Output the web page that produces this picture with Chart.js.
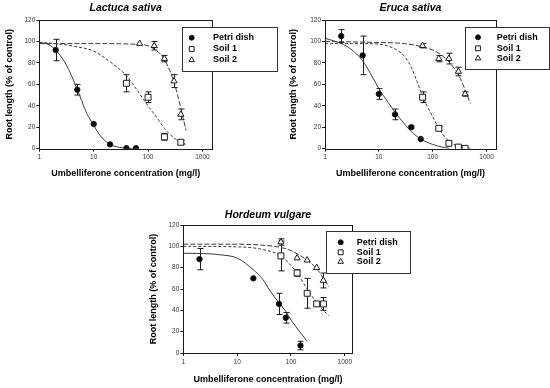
<!DOCTYPE html>
<html lang="en">
<head>
<meta charset="UTF-8">
<title>Umbelliferone - root length</title>
<script src="https://cdn.jsdelivr.net/npm/chart.js"></script>
<style>
  body { margin: 0; background: #fff; }
  canvas { position: absolute; }
  #c1 { left: 0; top: 0; }
  #c2 { left: 270px; top: 0; }
  #c3 { left: 130px; top: 190px; }
</style>
</head>
<body>
<canvas id="c1" width="280" height="190"></canvas>
<canvas id="c2" width="280" height="190"></canvas>
<canvas id="c3" width="282" height="198"></canvas>

<script>
// ---- data (concentration mg/l, root length % of control) ----
const seriesNames = ['Petri dish', 'Soil 1', 'Soil 2'];
const xTickLabels = [1, 10, 100, 1000];

// Lactuca sativa
const lacPetriX = [2, 5, 10, 20, 40, 60];
const lacPetriY = [92, 55, 23, 4, 0.5, 0.5];
const lacPetriErr = [10, 5, 0, 0, 0, 0];
const lacSoil1X = [40, 100, 200, 400];
const lacSoil1Y = [61, 48, 11, 6];
const lacSoil1Err = [8, 5, 3, 2];
const lacSoil2X = [70, 130, 200, 300, 400];
const lacSoil2Y = [98, 96, 84, 63, 32];
const lacSoil2Err = [0, 4, 3, 6, 5];
// fitted curves
const lacPetriFitX = [1, 1.5, 2, 3, 4, 5, 6, 7, 8, 10, 12, 15, 20, 30, 40, 60];
const lacPetriFitY = [99, 97, 92, 80, 67, 55, 45, 36, 30, 22, 15, 9, 4, 1.2, 0.4, 0];
const lacSoil1FitX = [1, 2, 5, 10, 20, 40, 60, 100, 150, 200, 300, 400, 500];
const lacSoil1FitY = [99, 98, 95, 91, 81, 68, 56, 40, 28, 19, 10, 6, 4];
const lacSoil2FitX = [1, 10, 50, 100, 130, 170, 200, 250, 300, 350, 400, 450, 500];
const lacSoil2FitY = [98, 98, 97.5, 96, 93, 88, 83, 73, 62, 50, 38, 27, 17];

// Eruca sativa
const eruPetriX = [2, 5, 10, 20, 40, 60];
const eruPetriY = [105, 87, 51, 32, 20, 9];
const eruPetriErr = [6, 18, 5, 5, 1, 0];
const eruSoil1X = [65, 130, 200, 300, 400];
const eruSoil1Y = [48, 19, 5, 1.5, 0.3];
const eruSoil1Err = [5, 2, 0, 0, 0];
const eruSoil2X = [65, 130, 200, 300, 400];
const eruSoil2Y = [96, 84, 84, 72, 51];
const eruSoil2Err = [2, 3, 5, 4, 2];
const eruPetriFitX = [1, 2, 3, 5, 7, 10, 15, 20, 30, 40, 60, 100, 150, 200];
const eruPetriFitY = [103, 98, 93, 82, 70, 56, 43, 34, 23, 16, 9, 4, 1.5, 0.5];
const eruSoil1FitX = [1, 5, 10, 20, 30, 40, 50, 65, 80, 100, 130, 200, 300, 500];
const eruSoil1FitY = [98, 98, 97.5, 93, 86, 76, 64, 49, 39, 30, 19, 7, 2.5, 0.3];
const eruSoil2FitX = [1, 10, 30, 65, 100, 130, 200, 300, 400, 500];
const eruSoil2FitY = [100, 99, 98, 95, 92, 89, 81, 69, 55, 42];

// Hordeum vulgare
const horPetriX = [2, 20, 60, 80, 150];
const horPetriY = [88, 70, 46, 33, 7];
const horPetriErr = [10, 0, 10, 5, 4];
const horSoil1X = [65, 130, 200, 300, 400];
const horSoil1Y = [91, 75, 56, 46, 46];
const horSoil1Err = [14, 3, 14, 0, 6];
const horSoil2X = [65, 130, 200, 300, 400];
const horSoil2Y = [104, 89, 87, 80, 68];
const horSoil2Err = [3, 0, 0, 0, 7];
const horPetriFitX = [1, 3, 5, 10, 20, 30, 40, 60, 80, 100, 150, 200];
const horPetriFitY = [93.5, 93, 92, 89, 78, 69, 59, 47, 39, 31, 19, 11];
const horSoil1FitX = [1, 10, 30, 65, 100, 130, 200, 300, 400, 500];
const horSoil1FitY = [100, 99.5, 97, 91, 82, 75, 60, 47, 40, 35];
const horSoil2FitX = [1, 10, 30, 65, 100, 130, 200, 300, 400, 500];
const horSoil2FitY = [102, 102, 101, 99, 96, 93, 87, 79, 70, 62];

// ---- helpers ----
const FONT = "'Liberation Sans', Arial, sans-serif";
const INK = '#1a1a1a';

const markerStyles = [
  { pointStyle: 'circle', pointRadius: 2.7, backgroundColor: '#000', legendR: 2.5 },
  { pointStyle: 'rect', pointRadius: 4.2, backgroundColor: '#fff', legendR: 3.4 },
  { pointStyle: 'triangle', pointRadius: 3.6, backgroundColor: '#fff', legendR: 3.2 }
];
const fitDashes = [[], [3, 2], [5, 2]];

function xy(xs, ys) {
  return xs.map((x, i) => ({ x: x, y: ys[i] }));
}

function points(i, xs, ys, err) {
  const s = markerStyles[i];
  return {
    label: seriesNames[i], data: xy(xs, ys), err: err, showLine: false,
    pointStyle: s.pointStyle, pointRadius: s.pointRadius, legendR: s.legendR,
    backgroundColor: s.backgroundColor, borderColor: INK, borderWidth: 1, order: 0
  };
}

function curve(i, xs, ys) {
  return {
    label: '', data: xy(xs, ys), showLine: true, pointRadius: 0,
    borderColor: '#3a3a3a', borderWidth: 1, borderDash: fitDashes[i],
    cubicInterpolationMode: 'monotone', order: 1
  };
}

// error bars go under the markers
const errorBars = {
  id: 'errorBars',
  beforeDatasetsDraw(chart) {
    const ctx = chart.ctx, xs = chart.scales.x, ys = chart.scales.y;
    ctx.save();
    ctx.strokeStyle = INK;
    ctx.lineWidth = 1;
    chart.data.datasets.forEach(ds => {
      if (!ds.err) return;
      ds.data.forEach((p, i) => {
        const e = ds.err[i];
        if (!e) return;
        const px = Math.round(xs.getPixelForValue(p.x)) + 0.5;
        const top = ys.getPixelForValue(p.y + e);
        const bot = ys.getPixelForValue(Math.max(p.y - e, 0));
        ctx.beginPath();
        ctx.moveTo(px, top); ctx.lineTo(px, bot);
        ctx.moveTo(px - 3, top); ctx.lineTo(px + 3, top);
        ctx.moveTo(px - 3, bot); ctx.lineTo(px + 3, bot);
        ctx.stroke();
      });
    });
    ctx.restore();
  }
};

// frame, panel title and boxed legend
const decor = {
  id: 'decor',
  afterDraw(chart) {
    const o = chart.options.plugins.decor;
    const a = chart.chartArea, ctx = chart.ctx;
    ctx.save();
    ctx.strokeStyle = INK;
    ctx.lineWidth = 1;
    ctx.strokeRect(Math.round(a.left) + 0.5, Math.round(a.top) + 0.5,
      Math.round(a.right - a.left), Math.round(a.bottom - a.top));

    ctx.fillStyle = '#000';
    ctx.font = 'italic bold 10.5px ' + FONT;
    ctx.textAlign = 'center';
    ctx.textBaseline = 'middle';
    ctx.fillText(o.title, (a.left + a.right) / 2, o.titleY);

    const L = o.legend;
    ctx.fillStyle = '#fff';
    ctx.fillRect(L.x, L.y, L.w, L.h);
    ctx.strokeStyle = '#333';
    ctx.strokeRect(L.x + 0.5, L.y + 0.5, L.w, L.h);
    const marks = chart.data.datasets.filter(d => d.err);
    marks.forEach((d, i) => {
      ctx.fillStyle = d.backgroundColor;
      ctx.strokeStyle = INK;
      ctx.lineWidth = 1;
      Chart.helpers.drawPoint(ctx, { pointStyle: d.pointStyle, radius: d.legendR, borderWidth: 1, rotation: 0 }, L.symX, L.rows[i]);
      ctx.fillStyle = '#000';
      ctx.font = 'bold 9px ' + FONT;
      ctx.textAlign = 'left';
      ctx.textBaseline = 'middle';
      ctx.fillText(d.label, L.textX, L.rows[i]);
    });
    ctx.restore();
  }
};

function makePanel(id, p) {
  const cv = document.getElementById(id);
  new Chart(cv, {
    type: 'scatter',
    data: { datasets: p.datasets },
    options: {
      responsive: false,
      animation: false,
      layout: { padding: { left: 0, top: p.area.top, right: cv.width - p.area.right, bottom: 0 } },
      plugins: {
        legend: { display: false },
        tooltip: { enabled: false },
        decor: { title: p.title, titleY: p.titleY, legend: p.legend }
      },
      scales: {
        x: {
          type: 'logarithmic', min: 1, max: p.xMax,
          border: { display: false },
          grid: { drawOnChartArea: false, drawTicks: true, tickLength: 3, color: INK },
          ticks: {
            autoSkip: false, maxRotation: 0, padding: 2, color: '#333',
            font: { family: FONT, size: 6.5 },
            callback: v => xTickLabels.includes(v) ? String(v) : null
          },
          title: {
            display: true, text: 'Umbelliferone concentration (mg/l)', color: '#000',
            font: { family: FONT, size: 9, weight: 'bold' },
            padding: { top: 0, bottom: p.xTitlePad }
          },
          afterFit: s => { s.height = cv.height - p.area.bottom; }
        },
        y: {
          min: 0, max: 120,
          border: { display: false },
          grid: { drawOnChartArea: false, drawTicks: true, tickLength: 3, color: INK },
          ticks: { stepSize: 20, padding: 1, color: '#333', font: { family: FONT, size: 6.5 } },
          title: {
            display: true, text: 'Root length (% of control)', color: '#000',
            font: { family: FONT, size: 9, weight: 'bold' },
            padding: { top: p.yTitlePad, bottom: 0 }
          },
          afterFit: s => { s.width = p.area.left; }
        }
      }
    },
    plugins: [errorBars, decor]
  });
}

makePanel('c1', {
  title: 'Lactuca sativa', titleY: 8, xMax: 1500,
  area: { left: 39.3, right: 212, top: 20, bottom: 148.7 },
  xTitlePad: 10.6, yTitlePad: 4.6,
  legend: { x: 182, y: 27, w: 95, h: 44, symX: 191.7, textX: 213, rows: [37.7, 49, 60] },
  datasets: [
    points(0, lacPetriX, lacPetriY, lacPetriErr),
    points(1, lacSoil1X, lacSoil1Y, lacSoil1Err),
    points(2, lacSoil2X, lacSoil2Y, lacSoil2Err),
    curve(0, lacPetriFitX, lacPetriFitY),
    curve(1, lacSoil1FitX, lacSoil1FitY),
    curve(2, lacSoil2FitX, lacSoil2FitY)
  ]
});

makePanel('c2', {
  title: 'Eruca sativa', titleY: 8, xMax: 1500,
  area: { left: 55, right: 226, top: 20, bottom: 148.7 },
  xTitlePad: 10.6, yTitlePad: 18.6,
  legend: { x: 195, y: 27, w: 84, h: 42, symX: 208, textX: 226.7, rows: [37.3, 48.3, 58.3] },
  datasets: [
    points(0, eruPetriX, eruPetriY, eruPetriErr),
    points(1, eruSoil1X, eruSoil1Y, eruSoil1Err),
    points(2, eruSoil2X, eruSoil2Y, eruSoil2Err),
    curve(0, eruPetriFitX, eruPetriFitY),
    curve(1, eruSoil1FitX, eruSoil1FitY),
    curve(2, eruSoil2FitX, eruSoil2FitY)
  ]
});

makePanel('c3', {
  title: 'Hordeum vulgare', titleY: 25, xMax: 1400,
  area: { left: 53.3, right: 222.7, top: 35, bottom: 163 },
  xTitlePad: 2.6, yTitlePad: 18.6,
  legend: { x: 196, y: 41, w: 84, h: 42, symX: 210.7, textX: 226.7, rows: [52.3, 62.3, 71.7] },
  datasets: [
    points(0, horPetriX, horPetriY, horPetriErr),
    points(1, horSoil1X, horSoil1Y, horSoil1Err),
    points(2, horSoil2X, horSoil2Y, horSoil2Err),
    curve(0, horPetriFitX, horPetriFitY),
    curve(1, horSoil1FitX, horSoil1FitY),
    curve(2, horSoil2FitX, horSoil2FitY)
  ]
});
</script>
</body>
</html>
